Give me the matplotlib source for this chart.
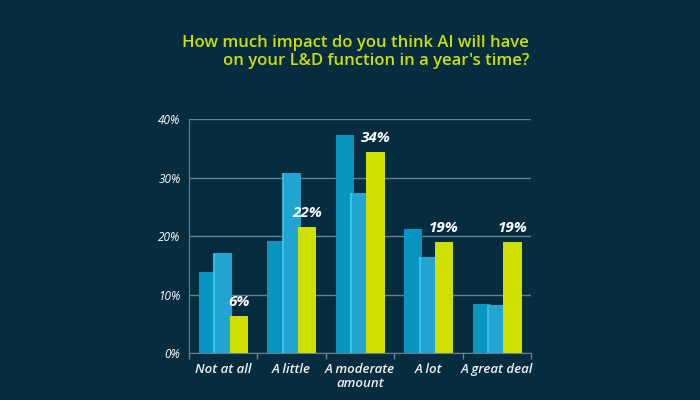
import matplotlib
matplotlib.use('Agg')
import matplotlib.pyplot as plt
import numpy as np

categories = ['Not at all', 'A little', 'A moderate\namount', 'A lot', 'A great deal']
series1 = [13.9, 19.1, 37.3, 21.2, 8.4]
series2 = [17.1, 30.8, 27.4, 16.4, 8.2]
series3 = [6.4, 21.5, 34.3, 18.9, 18.9]
labels3 = ['6%', '22%', '34%', '19%', '19%']
yticks = [0, 10, 20, 30, 40]

plt.rcParams['font.family'] = ['Open Sans', 'DejaVu Sans']

bg = '#062c40'
c1 = '#0a95c0'
c2 = '#22a5d0'
c3 = '#cfe000'
gridc = '#6b7f8a'

fig = plt.figure(figsize=(7, 4), dpi=100, facecolor=bg)
ax = fig.add_axes([0.27, 0.1175, 0.489, 0.585])
ax.set_facecolor(bg)

x = np.arange(len(categories))
w = 0.265
off = 0.225
ax.bar(x - off, series1, w, color=c1, zorder=3)
ax.bar(x, series2, w, color=c2, zorder=4)
ax.vlines(x - w / 2, 0, series2, color='#3ccaf0', lw=1.2, zorder=5)
ax.bar(x + off, series3, w, color=c3, zorder=6)

for xi, v, t in zip(x, series3, labels3):
    ax.text(xi + off, v + 1.2, t, ha='center', va='bottom', color='white',
            fontsize=11, fontweight='bold', fontstyle='italic', zorder=7)

ax.set_xlim(-0.5, len(categories) - 0.5)
ax.set_ylim(0, 40)
ax.set_yticks(yticks)
ax.set_yticklabels([f'{t}%' for t in yticks], color='white', fontstyle='italic', fontsize=8.5)
ax.yaxis.grid(True, color=gridc, lw=1, zorder=0)
ax.tick_params(axis='y', length=0, pad=6)

ax.set_xticks(x)
ax.set_xticklabels(categories, color='#f0f0f0', fontstyle='italic', fontweight='semibold',
                   fontsize=9.5, linespacing=1.15)
ax.set_xticks(np.arange(len(categories) + 1) - 0.5, minor=True)
ax.tick_params(axis='x', which='major', length=0, pad=7)
ax.tick_params(axis='x', which='minor', length=4, color=gridc, width=1)

for s in ['top', 'right']:
    ax.spines[s].set_visible(False)
ax.spines['left'].set_color(gridc)
ax.spines['bottom'].set_color(gridc)

fig.text(0.756, 0.87, "How much impact do you think AI will have\non your L&D function in a year's time?",
         ha='right', va='center', color=c3, fontsize=12, fontweight='semibold', linespacing=1.15)

fig.savefig('out.png', dpi=100, facecolor=bg)
